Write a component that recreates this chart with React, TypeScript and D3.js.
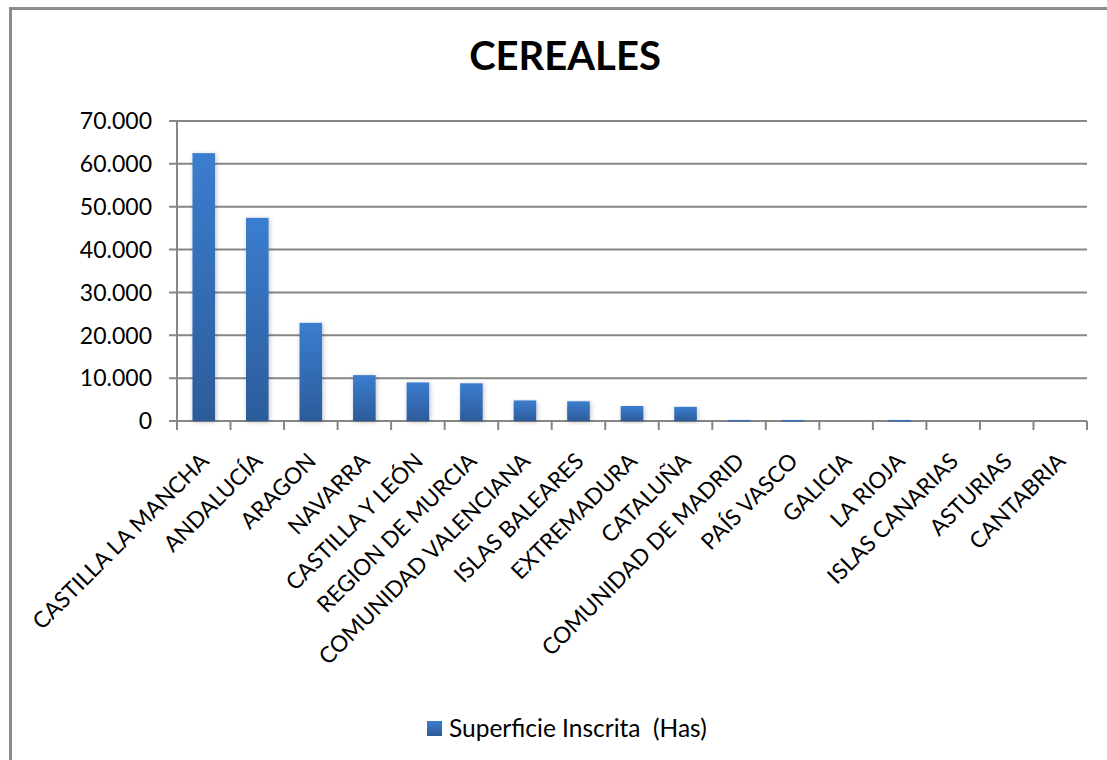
import React from "react";
import * as d3 from "d3";

const categories: string[] = [
  "CASTILLA LA MANCHA",
  "ANDALUCÍA",
  "ARAGON",
  "NAVARRA",
  "CASTILLA Y LEÓN",
  "REGION DE MURCIA",
  "COMUNIDAD VALENCIANA",
  "ISLAS BALEARES",
  "EXTREMADURA",
  "CATALUÑA",
  "COMUNIDAD DE MADRID",
  "PAÍS VASCO",
  "GALICIA",
  "LA RIOJA",
  "ISLAS CANARIAS",
  "ASTURIAS",
  "CANTABRIA",
];

const values: number[] = [
  62500, 47400, 22900, 10700, 9000, 8800, 4800, 4600, 3500, 3300, 250, 250, 0, 250, 0, 0, 0,
];

const yTicks: number[] = [0, 10000, 20000, 30000, 40000, 50000, 60000, 70000];

const title = "CEREALES";
const seriesName = "Superficie Inscrita  (Has)";

const W = 1107;
const H = 760;
const FONT = "Lato, 'Open Sans', sans-serif";

const locale = d3.formatLocale({
  decimal: ",",
  thousands: ".",
  grouping: [3],
  currency: ["", ""],
});
const fmt = locale.format(",");

export default function App() {
  const x = d3.scaleBand<string>().domain(categories).range([177, 1087]).paddingInner(0.578).paddingOuter(0.289);
  const xTicks = d3.scaleBand<string>().domain(categories).range([177, 1087]);
  const y = d3.scaleLinear().domain([0, 70000]).range([421, 121]);

  return (
    <div style={{ position: "fixed", left: 0, top: 0, width: W, height: H, background: "#fff" }}>
      <svg width={W} height={H} style={{ display: "block" }}>
        <defs>
          <linearGradient id="barGrad" x1="0" y1="0" x2="0" y2="1">
            <stop offset="0%" stopColor="#3b7dcf" />
            <stop offset="100%" stopColor="#2c5c9a" />
          </linearGradient>
          <filter id="shadow" x="-30%" y="-10%" width="160%" height="130%">
            <feGaussianBlur in="SourceAlpha" stdDeviation="2.5" />
            <feOffset dx="1" dy="1" result="b" />
            <feComponentTransfer>
              <feFuncA type="linear" slope="0.25" />
            </feComponentTransfer>
            <feMerge>
              <feMergeNode />
              <feMergeNode in="SourceGraphic" />
            </feMerge>
          </filter>
        </defs>
        <rect x={0} y={0} width={W} height={H} fill="#fff" />
        {/* chart border */}
        <path d={`M10.5,${H} L10.5,8.5 L${W},8.5`} fill="none" stroke="#8c8c8c" strokeWidth={3} />

        <text x={565} y={70} textAnchor="middle" fontFamily={FONT} fontWeight={700} fontSize={40} fill="#000">
          {title}
        </text>

        {/* gridlines & y ticks */}
        {yTicks.map((t) => (
          <g key={t}>
            <line x1={169} x2={1087} y1={y(t)} y2={y(t)} stroke="#868686" strokeWidth={2} />
            <text x={152} y={y(t)} dy="0.36em" textAnchor="end" fontFamily={FONT} fontSize={23} fill="#000">
              {fmt(t)}
            </text>
          </g>
        ))}
        {/* y axis */}
        <line x1={177} x2={177} y1={121} y2={421} stroke="#868686" strokeWidth={2} />
        {/* x ticks */}
        {categories.concat(["__end"]).map((c, i) => {
          const xx = i < categories.length ? (xTicks(c) as number) : 1087;
          return <line key={c} x1={xx} x2={xx} y1={421} y2={430} stroke="#868686" strokeWidth={2} />;
        })}

        {/* bars */}
        {categories.map((c, i) => {
          const v = values[i];
          if (v <= 0) return null;
          const h = y(0) - y(v);
          return (
            <rect
              key={c}
              x={x(c)}
              y={y(v)}
              width={x.bandwidth()}
              height={Math.max(h, 1.5)}
              fill="url(#barGrad)"
              filter="url(#shadow)"
            />
          );
        })}

        {/* category labels */}
        {categories.map((c) => {
          const cx = (xTicks(c) as number) + xTicks.bandwidth() / 2;
          return (
            <text
              key={c}
              transform={`translate(${cx + 1},${457}) rotate(-45)`}
              textAnchor="end"
              dy="0.35em"
              fontFamily={FONT}
              fontSize={22.5}
              fill="#000"
              style={{ whiteSpace: "pre" }}
            >
              {c}
            </text>
          );
        })}

        {/* legend */}
        <rect x={427} y={721} width={15} height={15} fill="url(#barGrad)" />
        <text x={449} y={737} fontFamily={FONT} fontSize={24.5} fill="#000" style={{ whiteSpace: "pre" }}>
          {seriesName}
        </text>
      </svg>
    </div>
  );
}
